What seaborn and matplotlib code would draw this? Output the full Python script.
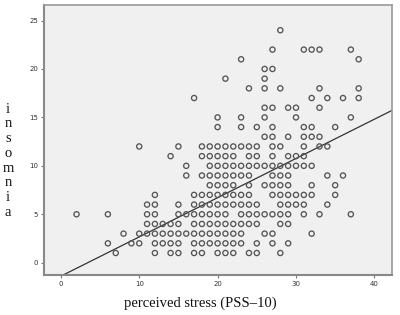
import pandas as pd
import matplotlib
matplotlib.use('Agg')
import matplotlib.pyplot as plt
import seaborn as sns

# insomnia score -> perceived stress scores seen at that level
insomnia_levels = [24, 22, 21, 20, 19, 18, 17, 16, 15, 14, 13, 12,
                   11, 10, 9, 8, 7, 6, 5, 4, 3, 2, 1]
pss_per_level = [
    [28],
    [27, 31, 32, 33, 37],
    [23, 38],
    [26, 27],
    [21, 26],
    [24, 26, 28, 33, 38],
    [17, 32, 34, 36, 38],
    [26, 27, 29, 30, 33],
    [20, 23, 26, 30, 37],
    [20, 23, 25, 27, 31, 32, 35],
    [26, 27, 29, 31, 32, 33],
    [10, 15, 18, 19, 20, 21, 22, 23, 24, 25, 27, 28, 31, 33, 34],
    [14, 18, 19, 20, 21, 22, 24, 25, 27, 29, 30, 31],
    [16, 19, 20, 21, 22, 23, 24, 25, 26, 27, 28, 29, 30, 31, 32],
    [16, 18, 19, 20, 21, 22, 23, 24, 27, 28, 29, 34, 36],
    [19, 20, 21, 22, 24, 26, 27, 28, 29, 32, 35],
    [12, 17, 18, 19, 20, 21, 22, 23, 24, 27, 28, 29, 30, 31, 32, 35],
    [11, 12, 15, 17, 18, 19, 20, 21, 22, 23, 24, 25, 28, 29, 30, 31, 34],
    [2, 6, 11, 12, 15, 16, 17, 18, 19, 20, 21, 23, 24, 25, 26, 27, 28, 29, 31, 33, 37],
    [11, 12, 13, 14, 15, 17, 18, 19, 20, 21, 22, 23, 24, 25, 28, 29],
    [8, 10, 11, 12, 13, 14, 15, 16, 17, 18, 19, 20, 21, 22, 23, 26, 27, 32],
    [6, 9, 10, 12, 13, 14, 15, 17, 18, 19, 20, 21, 22, 23, 25, 27, 29],
    [7, 12, 14, 15, 17, 18, 20, 21, 22, 24, 25, 28],
]

# fitted line
fit_intercept = -1.39
fit_slope = 0.405

x_ticks = [0, 10, 20, 30, 40]
y_ticks = [0, 5, 10, 15, 20, 25]

rows = []
for lvl, xs in zip(insomnia_levels, pss_per_level):
    for v in xs:
        rows.append((v, lvl))
df = pd.DataFrame(rows, columns=['pss', 'insomnia'])

sns.set_style('ticks')
plt.rcParams['font.family'] = ['DejaVu Sans']

fig = plt.figure(figsize=(4, 3.15), dpi=100)
ax = fig.add_axes([0.109, 0.127, 0.870, 0.857])
ax.set_facecolor('#f0f0f0')

sns.scatterplot(data=df, x='pss', y='insomnia', ax=ax, marker='o', s=14,
                facecolor='none', edgecolor='#555555', linewidth=0.95, zorder=3)
ax.axline((0, fit_intercept), slope=fit_slope, color='#333333', lw=0.9, zorder=2)

ax.set_xlim(-2.2, 42.2)
ax.set_ylim(-1.27, 26.6)
ax.set_xticks(x_ticks)
ax.set_yticks(y_ticks)
ax.tick_params(labelsize=5, colors='#777777', labelcolor='#333333',
               length=2.5, width=0.8, pad=1.5)
for side in ['left', 'bottom']:
    ax.spines[side].set_color('#888888')
    ax.spines[side].set_linewidth(1.5)
for side in ['top', 'right']:
    ax.spines[side].set_visible(True)
    ax.spines[side].set_color('#999999')
    ax.spines[side].set_linewidth(1.2)
ax.set_xlabel('')
ax.set_ylabel('')

fig.text(0.5, 0.038, 'perceived stress (PSS\u201310)', ha='center', va='center',
         fontsize=10.5, family=['Liberation Serif', 'DejaVu Serif'], color='#111111')
fig.text(0.02, 0.49, 'i\nn\ns\no\nm\nn\ni\na', ha='center', va='center',
         fontsize=10.5, linespacing=1.17, family=['Liberation Serif', 'DejaVu Serif'],
         color='#111111')

fig.savefig('out.png', dpi=100, facecolor='white')
